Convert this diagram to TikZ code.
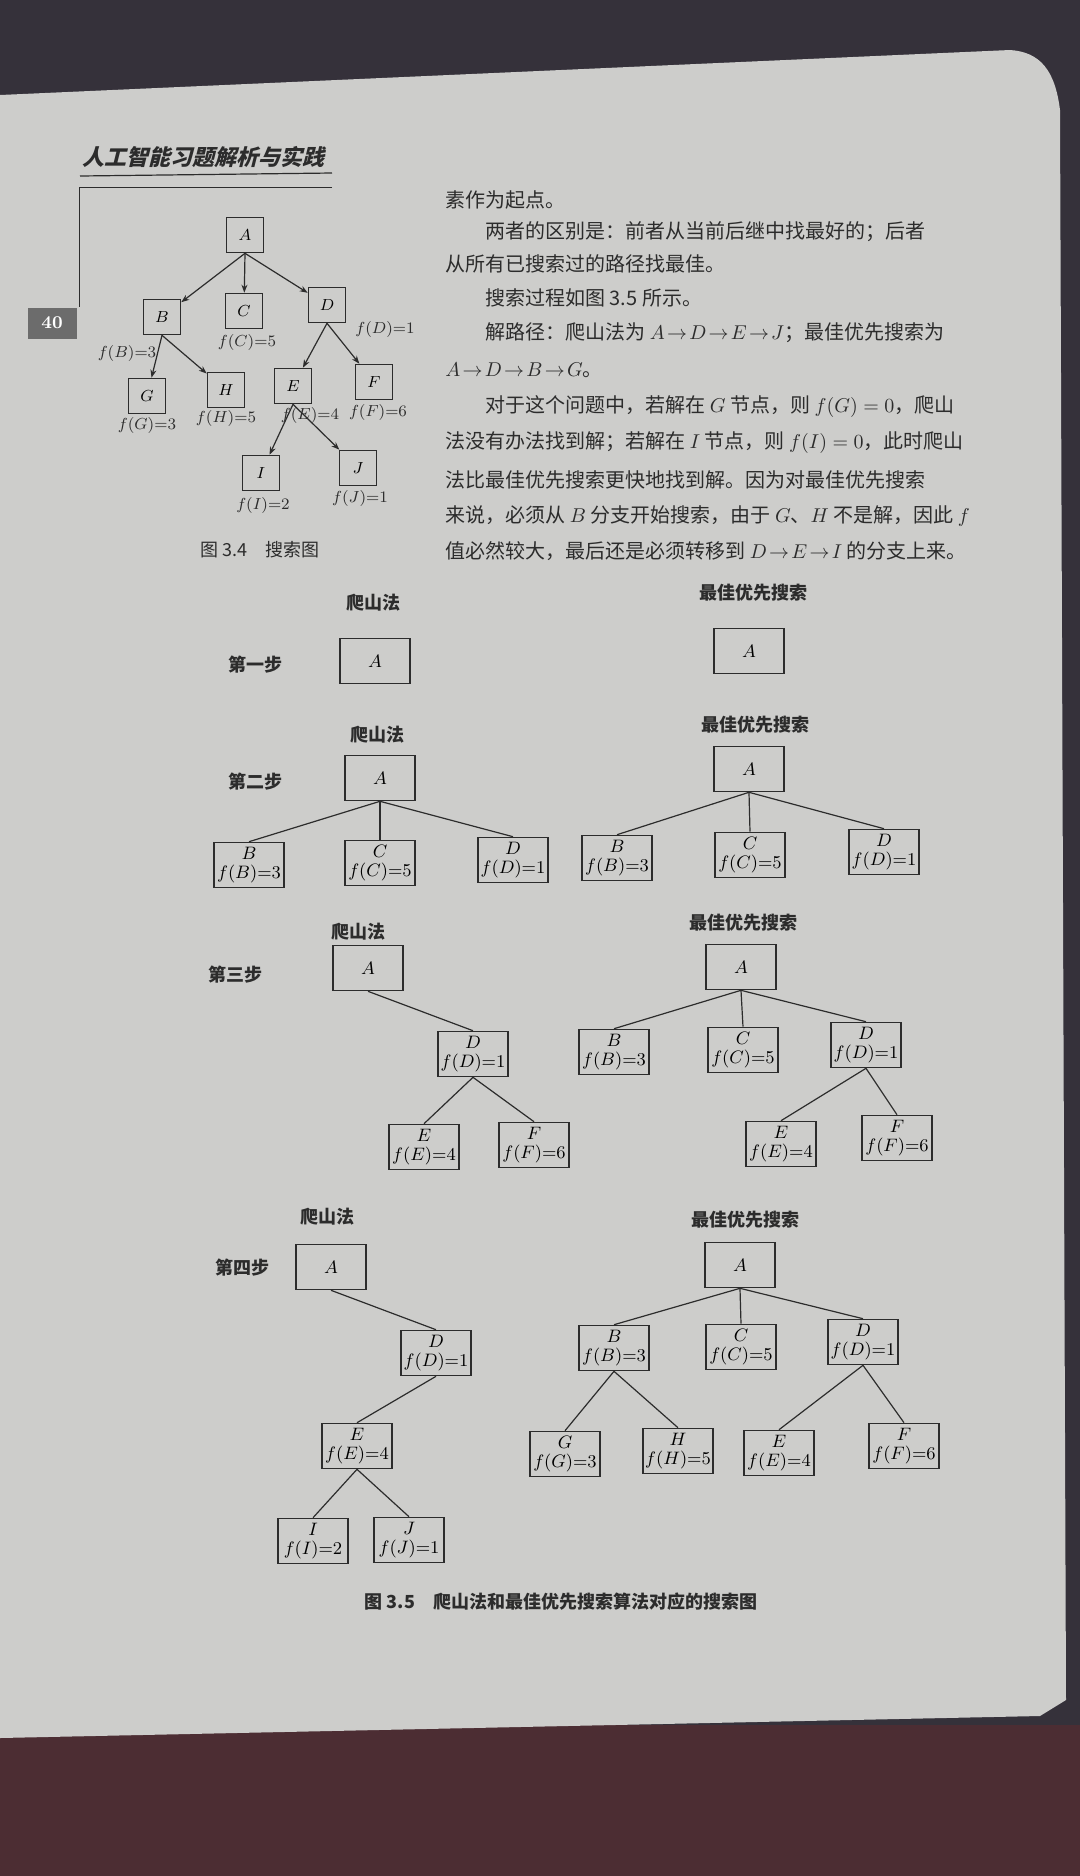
\documentclass[tikz,border=0pt]{standalone}
\usepackage{fontspec}
\usepackage{tikz}
\usetikzlibrary{arrows.meta}
\newfontfamily\cjk{Noto Sans CJK SC}
\newfontfamily\cjkslant{Noto Sans CJK SC}[FakeSlant=0.25]
\definecolor{pagegray}{HTML}{CDCDCB}
\definecolor{inkgray}{HTML}{2C2C2C}
\definecolor{darkbg}{HTML}{35313A}
\definecolor{bottombg}{HTML}{4C2D33}
\definecolor{tabgray}{HTML}{6C6C6C}

\begin{document}
\begin{tikzpicture}[x=0.5pt,y=-0.5pt,
  tbox/.style={draw=inkgray,thick,minimum width=18.5pt,minimum height=17.5pt,inner sep=1pt,font=\footnotesize},
  sbox/.style={draw=inkgray,thick,minimum width=35pt,minimum height=22.5pt,inner sep=1pt,align=center,font=\fontsize{9}{9.5}\selectfont},
  flabel/.style={font=\footnotesize,inner sep=0pt,text=inkgray},
  head/.style={font=\cjk\bfseries\fontsize{9}{11}\selectfont,text=inkgray},
  body/.style={anchor=west,font=\cjk\fontsize{10}{12}\selectfont,inner sep=0pt,text=inkgray},
  arr/.style={draw=inkgray,semithick,-{Stealth[length=4pt,width=3pt]}},
  link/.style={draw=inkgray,semithick}]

% Page and background
\useasboundingbox (0,0) rectangle (1080,1876);
\fill[darkbg] (0,0) rectangle (1080,1876);
\fill[bottombg] (0,1725) rectangle (1080,1876);
\fill[pagegray] (0,95) -- (1010,50) .. controls (1040,52) and (1055,70) .. (1060,110)
  -- (1066,1700) -- (1040,1716) -- (0,1738) -- cycle;

% Running head and page number
\node[font=\cjkslant\bfseries\fontsize{11}{13}\selectfont,text=inkgray] (title) at (204,157) {人工智能习题解析与实践};
\draw[inkgray,semithick] (80,176) -- (332,173);
\draw[inkgray,thin] (332,187) -- (79,187) -- (79,307);
\node[fill=tabgray,minimum width=24.5pt,minimum height=15.5pt,inner sep=0pt,
  font=\bfseries\small,text=white] (pnum) at (52,323) {40};

% Figure 3.4: search graph
\node[tbox] (A) at (245,235) {$A$};
\node[tbox] (B) at (162,317) {$B$};
\node[tbox] (C) at (244,311) {$C$};
\node[tbox] (D) at (327,305) {$D$};
\node[tbox] (G) at (147,396) {$G$};
\node[tbox] (H) at (226,390) {$H$};
\node[tbox] (E) at (293,386) {$E$};
\node[tbox] (F) at (374,382) {$F$};
\node[tbox] (I) at (261,473) {$I$};
\node[tbox] (J) at (358,468) {$J$};

\draw[arr] (A.south) -- (B);
\draw[arr] (A.south) -- (C);
\draw[arr] (A.south) -- (D);
\draw[arr] (B.south) -- (G);
\draw[arr] (B.south) -- (H);
\draw[arr] (D.south) -- (E);
\draw[arr] (D.south) -- (F);
\draw[arr] (E.south) -- (I);
\draw[arr] (E.south) -- (J);

\node[flabel] (fB) at (127,353) {$f(B)$=3};
\node[flabel] (fC) at (247,342) {$f(C)$=5};
\node[flabel] (fD) at (385,329) {$f(D)$=1};
\node[flabel] (fG) at (147,425) {$f(G)$=3};
\node[flabel] (fH) at (226,418) {$f(H)$=5};
\node[flabel] (fE) at (310,415) {$f(E)$=4};
\node[flabel] (fF) at (378,412) {$f(F)$=6};
\node[flabel] (fI) at (263,505) {$f(I)$=2};
\node[flabel] (fJ) at (360,498) {$f(J)$=1};

\node[font=\cjk\fontsize{9}{11}\selectfont,text=inkgray] (cap34) at (260,550) {图 3.4\quad 搜索图};

% Text column
\node[body] (l1) at (445,200) {素作为起点。};
\node[body] (l2) at (485,232) {两者的区别是：前者从当前后继中找最好的；后者};
\node[body] (l3) at (445,264) {从所有已搜索过的路径找最佳。};
\node[body] (l4) at (485,298) {搜索过程如图 3.5 所示。};
\node[body] (l5) at (485,333) {解路径：爬山法为 $A\!\to\! D\!\to\! E\!\to\! J$；最佳优先搜索为};
\node[body] (l6) at (445,370) {$A\!\to\! D\!\to\! B\!\to\! G$。};
\node[body] (l7) at (485,407) {对于这个问题中，若解在 $G$ 节点，则 $f(G)=0$，爬山};
\node[body] (l8) at (445,443) {法没有办法找到解；若解在 $I$ 节点，则 $f(I)=0$，此时爬山};
\node[body] (l9) at (445,480) {法比最佳优先搜索更快地找到解。因为对最佳优先搜索};
\node[body] (l10) at (445,516) {来说，必须从 $B$ 分支开始搜索，由于 $G$、$H$ 不是解，因此 $f$};
\node[body] (l11) at (445,551) {值必然较大，最后还是必须转移到 $D\!\to\! E\!\to\! I$ 的分支上来。};

% Figure 3.5: titles and step labels
\node[head] (ht1) at (373,603) {爬山法};
\node[head] (bt1) at (753,593) {最佳优先搜索};
\node[head] (st1) at (255,665) {第一步};
\node[head] (ht2) at (377,735) {爬山法};
\node[head] (bt2) at (755,725) {最佳优先搜索};
\node[head] (st2) at (255,782) {第二步};
\node[head] (ht3) at (358,932) {爬山法};
\node[head] (bt3) at (743,923) {最佳优先搜索};
\node[head] (st3) at (235,975) {第三步};
\node[head] (ht4) at (327,1217) {爬山法};
\node[head] (bt4) at (745,1220) {最佳优先搜索};
\node[head] (st4) at (242,1268) {第四步};

% Step 1
\node[sbox] (hA1) at (375,661) {$A$};
\node[sbox] (bA1) at (749,651) {$A$};

% Step 2
\node[sbox] (hA2) at (380,778) {$A$};
\node[sbox] (hB2) at (249,865) {$B$\\$f(B)$=3};
\node[sbox] (hC2) at (380,863) {$C$\\$f(C)$=5};
\node[sbox] (hD2) at (513,860) {$D$\\$f(D)$=1};
\draw[link] (hA2.south) -- (hB2.north);
\draw[link] (hA2.south) -- (hC2.north);
\draw[link] (hA2.south) -- (hD2.north);

\node[sbox] (bA2) at (749,769) {$A$};
\node[sbox] (bB2) at (617,858) {$B$\\$f(B)$=3};
\node[sbox] (bC2) at (750,855) {$C$\\$f(C)$=5};
\node[sbox] (bD2) at (884,852) {$D$\\$f(D)$=1};
\draw[link] (bA2.south) -- (bB2.north);
\draw[link] (bA2.south) -- (bC2.north);
\draw[link] (bA2.south) -- (bD2.north);

% Step 3
\node[sbox] (hA3) at (368,968) {$A$};
\node[sbox] (hD3) at (473,1054) {$D$\\$f(D)$=1};
\node[sbox] (hE3) at (424,1147) {$E$\\$f(E)$=4};
\node[sbox] (hF3) at (534,1145) {$F$\\$f(F)$=6};
\draw[link] (hA3.south) -- (hD3.north);
\draw[link] (hD3.south) -- (hE3.north);
\draw[link] (hD3.south) -- (hF3.north);

\node[sbox] (bA3) at (741,967) {$A$};
\node[sbox] (bB3) at (614,1052) {$B$\\$f(B)$=3};
\node[sbox] (bC3) at (743,1050) {$C$\\$f(C)$=5};
\node[sbox] (bD3) at (866,1045) {$D$\\$f(D)$=1};
\node[sbox] (bE3) at (781,1144) {$E$\\$f(E)$=4};
\node[sbox] (bF3) at (897,1138) {$F$\\$f(F)$=6};
\draw[link] (bA3.south) -- (bB3.north);
\draw[link] (bA3.south) -- (bC3.north);
\draw[link] (bA3.south) -- (bD3.north);
\draw[link] (bD3.south) -- (bE3.north);
\draw[link] (bD3.south) -- (bF3.north);

% Step 4
\node[sbox] (hA4) at (331,1267) {$A$};
\node[sbox] (hD4) at (436,1353) {$D$\\$f(D)$=1};
\node[sbox] (hE4) at (357,1446) {$E$\\$f(E)$=4};
\node[sbox] (hI4) at (313,1541) {$I$\\$f(I)$=2};
\node[sbox] (hJ4) at (409,1540) {$J$\\$f(J)$=1};
\draw[link] (hA4.south) -- (hD4.north);
\draw[link] (hD4.south) -- (hE4.north);
\draw[link] (hE4.south) -- (hI4.north);
\draw[link] (hE4.south) -- (hJ4.north);

\node[sbox] (bA4) at (740,1265) {$A$};
\node[sbox] (bB4) at (614,1348) {$B$\\$f(B)$=3};
\node[sbox] (bC4) at (741,1347) {$C$\\$f(C)$=5};
\node[sbox] (bD4) at (863,1342) {$D$\\$f(D)$=1};
\node[sbox] (bG4) at (565,1454) {$G$\\$f(G)$=3};
\node[sbox] (bH4) at (678,1451) {$H$\\$f(H)$=5};
\node[sbox] (bE4) at (779,1453) {$E$\\$f(E)$=4};
\node[sbox] (bF4) at (904,1446) {$F$\\$f(F)$=6};
\draw[link] (bA4.south) -- (bB4.north);
\draw[link] (bA4.south) -- (bC4.north);
\draw[link] (bA4.south) -- (bD4.north);
\draw[link] (bB4.south) -- (bG4.north);
\draw[link] (bB4.south) -- (bH4.north);
\draw[link] (bD4.south) -- (bE4.north);
\draw[link] (bD4.south) -- (bF4.north);

\node[font=\cjk\bfseries\fontsize{9}{11}\selectfont,text=inkgray] (cap35) at (561,1602) {图 3.5\quad 爬山法和最佳优先搜索算法对应的搜索图};

\end{tikzpicture}
\end{document}
